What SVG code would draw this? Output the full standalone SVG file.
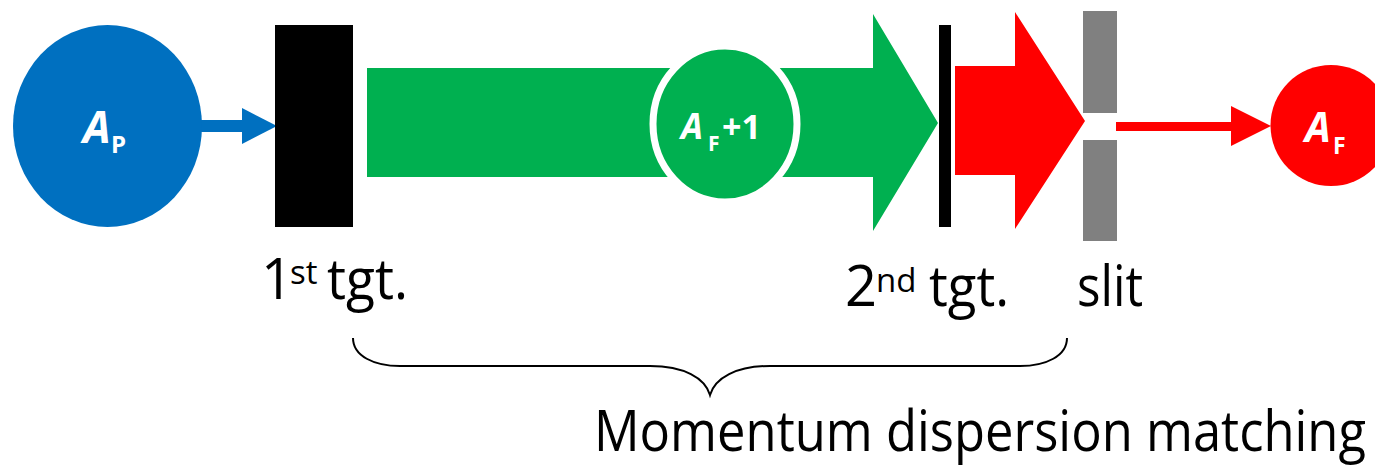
<svg xmlns="http://www.w3.org/2000/svg" width="1375" height="466" viewBox="0 0 1375 466">
<style>
.lbl{font-family:"Open Sans","Noto Sans","DejaVu Sans",sans-serif;font-size:56px;fill:#000}
.sup{font-size:33px}
.nt{font-family:"Open Sans","Noto Sans","DejaVu Sans",sans-serif;font-weight:bold;fill:#fff}
.it{font-style:italic}
</style>
<rect width="1375" height="466" fill="#fff"/>
<g id="connectors">
  <rect x="201" y="120" width="42" height="12" fill="#0070C0"/>
  <polygon points="242,108 277,126 242,144" fill="#0070C0"/>
  <rect x="1116" y="122" width="116" height="9" fill="#FF0000"/>
  <polygon points="1231,106 1271,126 1231,146" fill="#FF0000"/>
  <path d="M353,338 C353,356 374,366 400,366 L650,366 C684,366 705,378 710,395 C715,378 736,366 770,366 L1020,366 C1046,366 1067,356 1067,338" fill="none" stroke="#000" stroke-width="2"/>
</g>
<g id="green-beam">
  <polygon points="367,68 873,68 873,14 938,123 873,231 873,177 367,177" fill="#00B050"/>
</g>
<g id="red-beam">
  <polygon points="955,66 1015,66 1015,12 1085,121 1015,229 1015,175 955,175" fill="#FF0000"/>
</g>
<g id="node-AP">
  <ellipse cx="107.5" cy="126" rx="94.5" ry="101" fill="#0070C0"/>
  <text class="nt"><tspan class="it" x="83" y="143" font-size="44">A</tspan><tspan x="111" y="153" font-size="24">P</tspan></text>
</g>
<g id="tgt1">
  <rect x="275" y="25" width="78" height="202" fill="#000"/>
</g>
<g id="node-AF1">
  <ellipse cx="725" cy="124" rx="72" ry="78" fill="#00B050" stroke="#fff" stroke-width="7"/>
  <text class="nt"><tspan class="it" x="681" y="139" font-size="35">A</tspan><tspan x="708" y="151" font-size="21">F</tspan><tspan x="722" y="139" font-size="34">+1</tspan></text>
</g>
<g id="tgt2">
  <rect x="939" y="25" width="12" height="202" fill="#000"/>
</g>
<g id="slit">
  <rect x="1083" y="11" width="34" height="102" fill="#808080"/>
  <rect x="1083" y="140" width="34" height="101" fill="#808080"/>
</g>
<g id="node-AF">
  <circle cx="1331" cy="125.5" r="60.5" fill="#FF0000"/>
  <text class="nt"><tspan class="it" x="1305" y="142" font-size="41">A</tspan><tspan x="1333" y="154" font-size="23">F</tspan></text>
</g>
<g id="labels">
  <text class="lbl"><tspan x="261" y="299">1</tspan><tspan class="sup" x="290" y="284">st</tspan><tspan x="327" y="299" textLength="81" lengthAdjust="spacingAndGlyphs">tgt.</tspan></text>
  <text class="lbl"><tspan x="845" y="306">2</tspan><tspan class="sup" x="876" y="292">nd</tspan><tspan x="929" y="306" textLength="80" lengthAdjust="spacingAndGlyphs">tgt.</tspan></text>
  <text class="lbl" x="1077" y="306" textLength="66" lengthAdjust="spacingAndGlyphs">slit</text>
  <text class="lbl" x="594" y="451" textLength="772" lengthAdjust="spacingAndGlyphs">Momentum dispersion matching</text>
</g>
</svg>
